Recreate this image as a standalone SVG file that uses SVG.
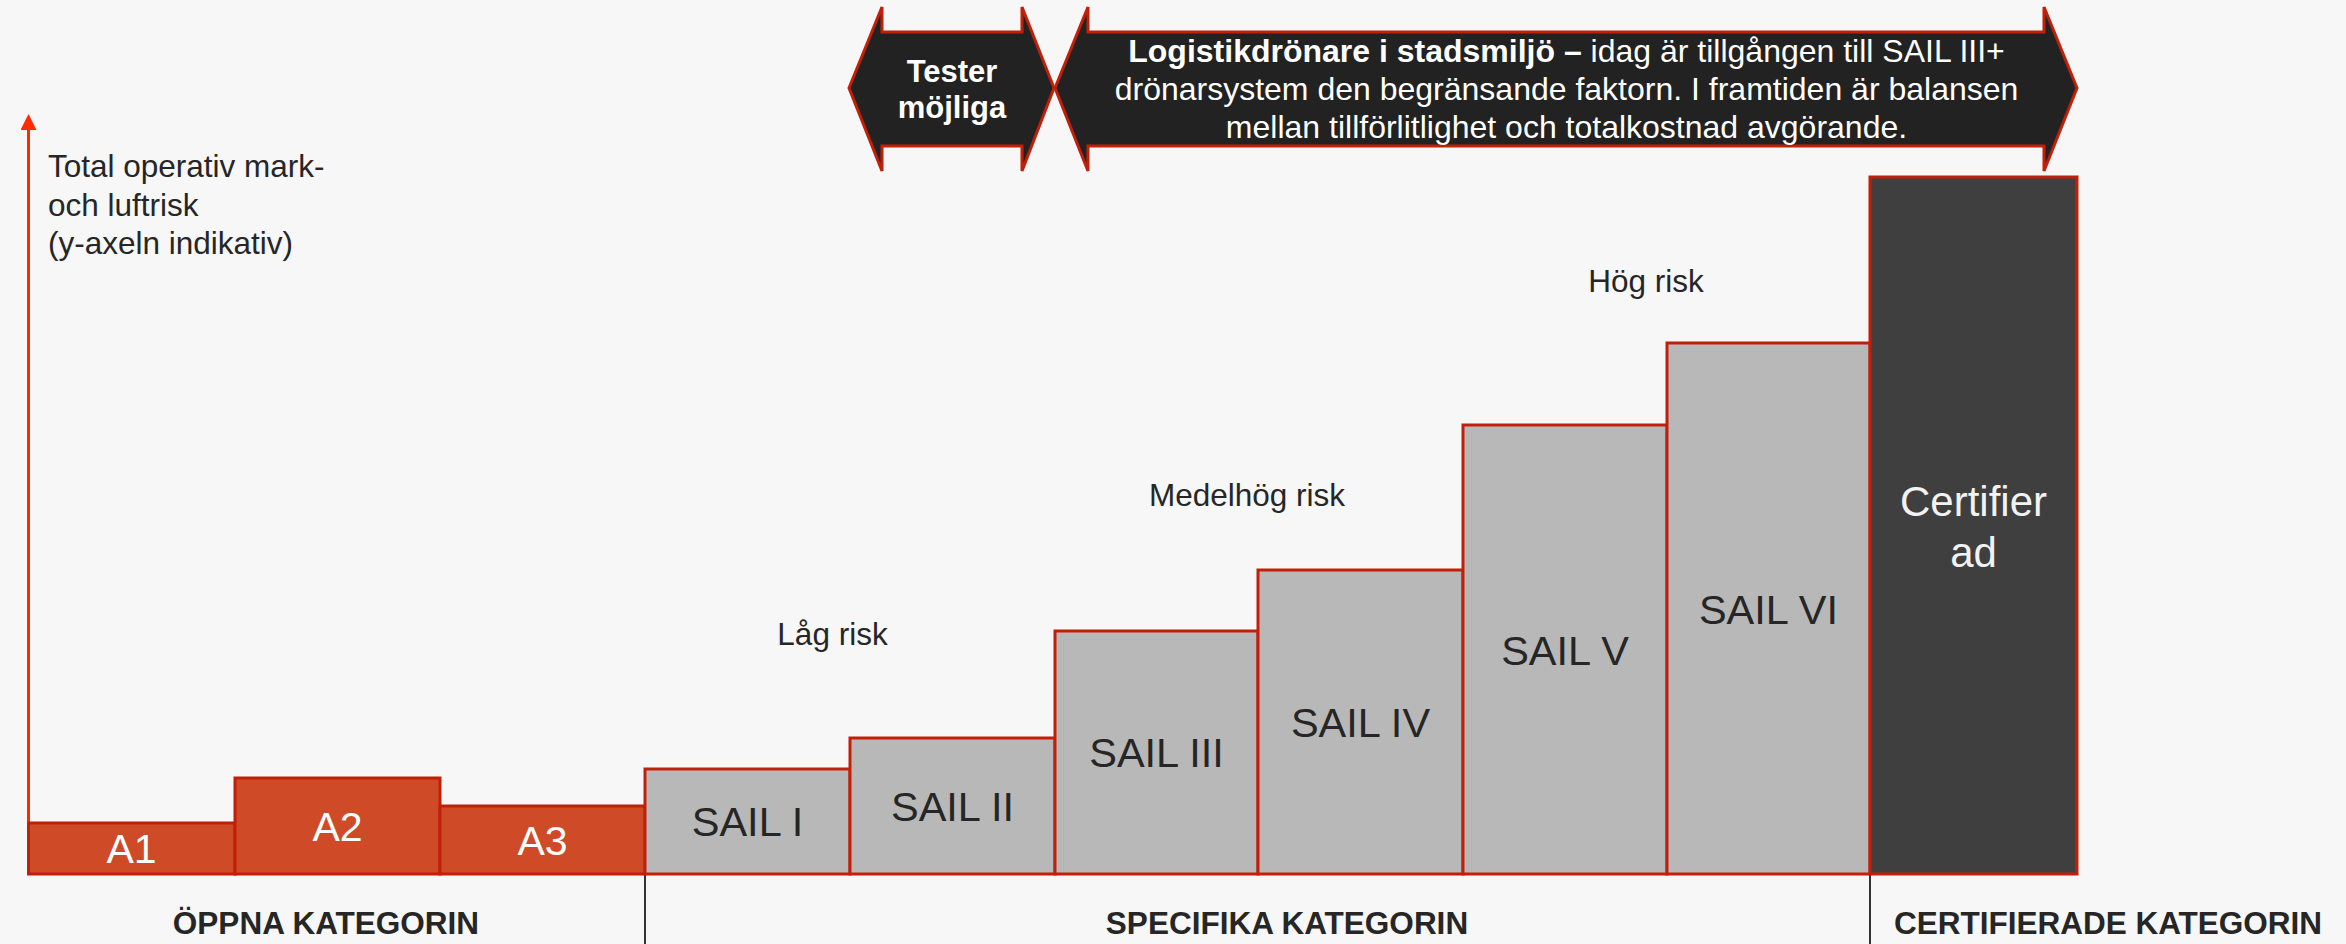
<svg xmlns="http://www.w3.org/2000/svg" width="2346" height="944" viewBox="0 0 2346 944">
  <defs>
    <style>
      .bg { fill: #f7f7f7; }
      .open { fill: #cf4a27; stroke: #c0200a; stroke-width: 3; }
      .spec { fill: #b8b8b8; stroke: #c0200a; stroke-width: 3; }
      .cert { fill: #3f3f3f; stroke: #c0200a; stroke-width: 3; }
      .banner { fill: #222222; stroke: #c0200a; stroke-width: 3; stroke-linejoin: miter; }
      .axis { stroke: #ff2a00; stroke-width: 3; fill: none; }
      .divider { stroke: #333333; stroke-width: 2; }
      text { font-family: "Liberation Sans", Arial, sans-serif; }
      .lbl { font-size: 31.5px; fill: #262626; }
      .risk { font-size: 31.5px; fill: #262626; text-anchor: middle; }
      .bar { font-size: 41.5px; fill: #262626; text-anchor: middle; }
      .barw { font-size: 41px; fill: #ffffff; text-anchor: middle; }
      .certw { font-size: 42px; fill: #f2f2f2; text-anchor: middle; }
      .cat { font-size: 31.5px; font-weight: bold; fill: #262626; text-anchor: middle; }
      .ban { font-size: 32px; fill: #ffffff; text-anchor: middle; }
      .banb { font-size: 31px; font-weight: bold; fill: #ffffff; text-anchor: middle; }
    </style>
    <marker id="axisHead" markerWidth="16" markerHeight="16" refX="0" refY="8" orient="auto" markerUnits="userSpaceOnUse">
      <path d="M0,0 L16,8 L0,16 Z" fill="#ff2a00"/>
    </marker>
  </defs>

  <rect class="bg" x="0" y="0" width="2346" height="944"/>

  <!-- connectors: risk axis and category dividers -->
  <g id="connectors">
    <line class="axis" x1="28.5" y1="874" x2="28.5" y2="130" marker-end="url(#axisHead)"/>
    <line class="divider" x1="645" y1="874" x2="645" y2="944"/>
    <line class="divider" x1="1870" y1="874" x2="1870" y2="944"/>
  </g>

  <g id="axis-label">
    <text class="lbl" x="48" y="177">Total operativ mark-</text>
    <text class="lbl" x="48" y="216">och luftrisk</text>
    <text class="lbl" x="48" y="254">(y-axeln indikativ)</text>
  </g>

  <!-- open category -->
  <g id="a1">
    <rect class="open" x="28.5" y="823" width="206.5" height="51"/>
    <text class="barw" x="131.5" y="863">A1</text>
  </g>
  <g id="a2">
    <rect class="open" x="235" y="778" width="205" height="96"/>
    <text class="barw" x="337.5" y="841">A2</text>
  </g>
  <g id="a3">
    <rect class="open" x="440" y="806" width="205" height="68"/>
    <text class="barw" x="542.5" y="855">A3</text>
  </g>

  <!-- specific category -->
  <g id="sail1">
    <rect class="spec" x="645" y="769" width="205" height="105"/>
    <text class="bar" x="747.5" y="836">SAIL I</text>
  </g>
  <g id="sail2">
    <rect class="spec" x="850" y="738" width="205" height="136"/>
    <text class="bar" x="952.5" y="821">SAIL II</text>
  </g>
  <g id="sail3">
    <rect class="spec" x="1055" y="631" width="203" height="243"/>
    <text class="bar" x="1156.5" y="767">SAIL III</text>
  </g>
  <g id="sail4">
    <rect class="spec" x="1258" y="570" width="205" height="304"/>
    <text class="bar" x="1360.5" y="737">SAIL IV</text>
  </g>
  <g id="sail5">
    <rect class="spec" x="1463" y="425" width="204" height="449"/>
    <text class="bar" x="1565" y="665">SAIL V</text>
  </g>
  <g id="sail6">
    <rect class="spec" x="1667" y="343" width="203" height="531"/>
    <text class="bar" x="1768.5" y="624">SAIL VI</text>
  </g>

  <!-- certified category -->
  <g id="certified">
    <rect class="cert" x="1870" y="177" width="207" height="697"/>
    <text class="certw" x="1973.5" y="516">Certifier</text>
    <text class="certw" x="1973.5" y="567">ad</text>
  </g>

  <!-- risk level labels -->
  <g id="risk-low"><text class="risk" x="832.5" y="645">Låg risk</text></g>
  <g id="risk-mid"><text class="risk" x="1247" y="506">Medelhög risk</text></g>
  <g id="risk-high"><text class="risk" x="1646" y="292">Hög risk</text></g>

  <!-- category labels -->
  <g id="cat-open"><text class="cat" x="326" y="934">ÖPPNA KATEGORIN</text></g>
  <g id="cat-spec"><text class="cat" x="1287" y="934">SPECIFIKA KATEGORIN</text></g>
  <g id="cat-cert"><text class="cat" x="2108" y="934">CERTIFIERADE KATEGORIN</text></g>

  <!-- double-headed banners -->
  <g id="banner-tests">
    <path class="banner" d="M849,88 L882,7 L882,32 L1022,32 L1022,7 L1054,88 L1022,171 L1022,146 L882,146 L882,171 Z"/>
    <text class="banb" x="952" y="82">Tester</text>
    <text class="banb" x="952" y="118">möjliga</text>
  </g>
  <g id="banner-logistics">
    <path class="banner" d="M1055,88 L1088,7 L1088,32 L2044,32 L2044,7 L2077,88 L2044,171 L2044,146 L1088,146 L1088,171 Z"/>
    <text class="ban" x="1566.5" y="62"><tspan font-weight="bold">Logistikdrönare i stadsmiljö –</tspan> idag är tillgången till SAIL III+</text>
    <text class="ban" x="1566.5" y="100">drönarsystem den begränsande faktorn. I framtiden är balansen</text>
    <text class="ban" x="1566.5" y="138">mellan tillförlitlighet och totalkostnad avgörande.</text>
  </g>
</svg>
